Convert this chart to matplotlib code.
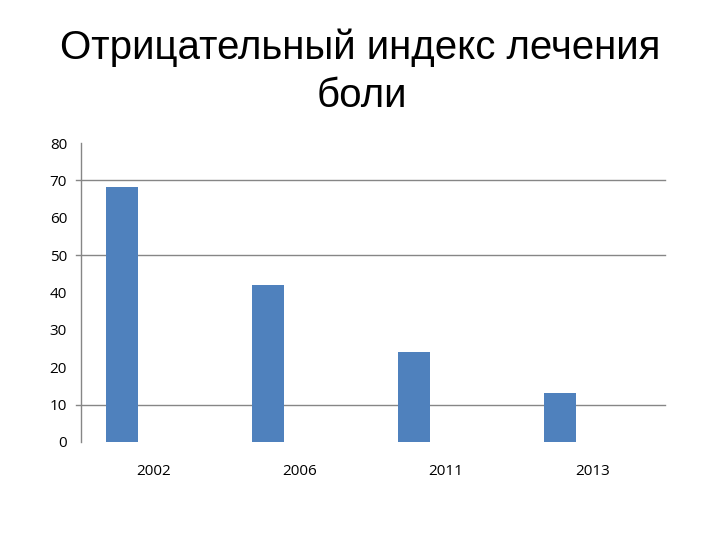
import matplotlib.pyplot as plt

years = ['2002', '2006', '2011', '2013']
values = [68.2, 42, 24, 13]
y_ticks = [0, 10, 20, 30, 40, 50, 60, 70, 80]
grid_levels = [10, 50, 70]

plt.rcParams['font.family'] = ['Open Sans', 'DejaVu Sans']

fig = plt.figure(figsize=(7.2, 5.4), dpi=100)
ax = fig.add_axes([0.1125, 0.1815, 0.8115, 0.5535])

x = list(range(len(years)))
ax.bar([i - 0.22 for i in x], values, width=0.22, color='#4F81BD', zorder=3)

for g in grid_levels:
    ax.axhline(g, xmin=-0.008, xmax=1, color='#868686', lw=1, clip_on=False, zorder=1)

ax.set_xlim(-0.5, 3.5)
ax.set_ylim(0, 80)
ax.set_yticks(y_ticks)
ax.set_xticks(x)
ax.set_xticklabels(years)
ax.tick_params(axis='both', length=0, labelsize=11, colors='black')
ax.tick_params(axis='y', pad=10)
ax.tick_params(axis='x', pad=16)

for s in ['top', 'right', 'bottom']:
    ax.spines[s].set_visible(False)
ax.spines['left'].set_color('#868686')
ax.spines['left'].set_linewidth(1)

fig.text(0.5, 0.911, 'Отрицательный индекс лечения', ha='center', va='center',
         fontsize=29, family=['Liberation Sans', 'DejaVu Sans'])
fig.text(0.502, 0.822, 'боли', ha='center', va='center',
         fontsize=29, family=['Liberation Sans', 'DejaVu Sans'])

fig.savefig('out.png', dpi=100)
